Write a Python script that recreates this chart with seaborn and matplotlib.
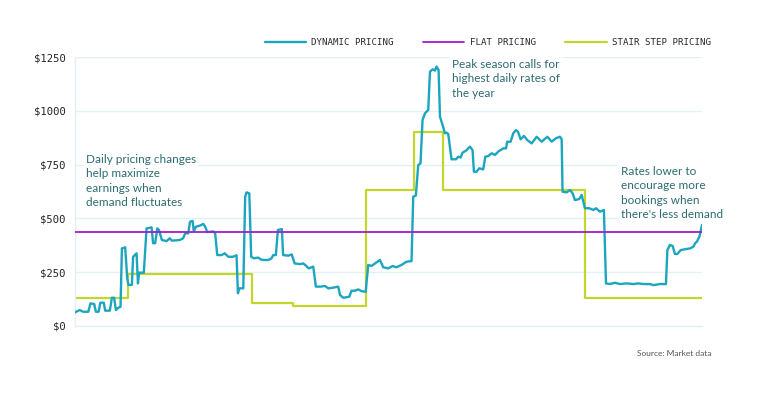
import numpy as np
import pandas as pd
import matplotlib
matplotlib.use("Agg")
import matplotlib.pyplot as plt
import seaborn as sns

# =============== DATA ===============
# day of year -> nightly rate ($)
dynamic_days = [
    0, 3, 5, 8, 9.3, 11.4, 12.4, 14, 15, 17, 17.8, 20.5, 21.7, 23, 24, 25.5, 26.7,
    27.5, 29.4, 30.6, 31.3, 33.3, 34, 36, 36.8, 37.5, 40.2, 41.8, 44.7, 45.6, 46.8,
    48, 49, 50.7, 53.4, 55.3, 56.5, 61, 63, 64.2, 66, 67, 68.5, 69.2, 70.4, 72.7,
    74.7, 75.8, 77, 79.3, 80.5, 81.6, 82.8, 85.3, 87.2, 89.2, 92, 94, 94.8, 95.6,
    97.9, 99, 99.8, 101.4, 102.5, 104, 106.6, 108, 109.5, 112.4, 114.3, 115.3,
    116.8, 118, 120.3, 121, 124, 126, 127.7, 130.8, 132.7, 134.2, 135.8, 138.5,
    140, 142.7, 145.3, 147.2, 150, 153, 154, 156, 159.4, 160.7, 162.7, 164.6,
    166.5, 168.9, 170.4, 172.3, 174.3, 177.2, 179.1, 182, 184.5, 186.8, 189.7,
    192.6, 195.5, 196.5, 198, 199.4, 200.7, 201.9, 203.3, 205.2, 206.2, 207.7,
    209.1, 210, 211.2, 212, 213.5, 214.9, 215.8, 216.8, 218.7, 221.3, 222.6, 224,
    225.1, 227.1, 229.4, 230.9, 231.7, 233.2, 234.8, 237.1, 238.3, 240, 242,
    243.9, 245.8, 248.7, 250.3, 251, 253, 254.5, 256.1, 257.2, 258.8, 260.7,
    262.6, 265.2, 268.1, 271, 274.3, 276.8, 279.3, 281.6, 282.6, 283.1, 285.5,
    287.4, 289, 290.3, 292.8, 294.2, 296.1, 298.6, 301, 302.5, 304.8, 307.1,
    308.3, 310.6, 313.5, 316.4, 320.3, 324.2, 327.1, 330, 333.8, 335.8, 339.6,
    343.1, 343.9, 345.4, 347, 348.3, 349.7, 351.6, 354.1, 357.1, 359, 360, 361,
    362.5, 364,
]
dynamic_rates = [
    61, 73, 65, 65, 104, 101, 65, 65, 107, 107, 70, 70, 130, 130, 73, 84, 88,
    360, 365, 220, 190, 190, 321, 337, 197, 247, 247, 453, 458, 384, 384,
    453, 446, 399, 394, 407, 396, 399, 407, 430, 430, 484, 488, 438, 461, 466,
    474, 461, 436, 438, 439, 430, 329, 329, 337, 321, 321, 328, 151, 174,
    174, 601, 621, 616, 321, 314, 317, 309, 306, 306, 314, 329,
    329, 446, 450, 329, 326, 332, 290, 287, 290, 280, 267, 275,
    182, 182, 185, 174, 177, 182, 143, 130, 135, 163, 163, 169,
    161, 158, 283, 278, 290, 306, 272, 267, 278, 272, 283,
    298, 301, 601, 606, 748, 756, 958, 989, 1005, 1183, 1194,
    1188, 1207, 1191, 974, 935, 896, 899, 893, 775, 775, 787, 783,
    806, 815, 834, 818, 717, 717, 733, 728, 787, 790, 803,
    795, 811, 826, 826, 857, 857, 896, 911, 904, 868, 884,
    865, 849, 880, 857, 880, 857, 873, 880, 868, 624, 621,
    632, 616, 585, 590, 609, 547, 547, 539, 547, 531, 539,
    197, 194, 200, 194, 197, 194, 197, 194, 194, 189, 194,
    194, 352, 376, 371, 334, 334, 352, 356, 360, 368, 384, 391,
    415, 469,
]

flat_days = [0, 364]
flat_rates = [435, 435]

stair_days = [0, 31, 103, 127, 169, 197, 214, 296, 364]
stair_rates = [130, 240, 104, 93, 630, 900, 630, 130, 130]

y_ticks = [0, 250, 500, 750, 1000, 1250]
y_labels = ["$0", "$250", "$500", "$750", "$1000", "$1250"]

notes = [
    (6.6, 674, "Daily pricing changes\nhelp maximize\nearnings when\ndemand fluctuates"),
    (219.1, 1150, "Peak season calls for\nhighest daily rates of\nthe year"),
    (317, 618, "Rates lower to\nencourage more\nbookings when\nthere's less demand"),
]

# =============== STYLE ===============
sns.set_style("white")
plt.rcParams["font.family"] = ["Lato", "DejaVu Sans"]

DYN = "#1ca5bf"
FLAT = "#a31cc6"
STAIR = "#c2d62b"
GRID = "#e3f1f6"
NOTE = "#2d6c72"

fig = plt.figure(figsize=(7.68, 3.96), dpi=100)
ax = fig.add_axes([74.5 / 768, 1 - 325.7 / 396, (702 - 74.5) / 768, (325.7 - 57.3) / 396])

dyn_df = pd.DataFrame({"day": dynamic_days, "rate": dynamic_rates})
flat_df = pd.DataFrame({"day": flat_days, "rate": flat_rates})
stair_df = pd.DataFrame({"day": stair_days, "rate": stair_rates})

sns.lineplot(data=dyn_df, x="day", y="rate", ax=ax, color=DYN, lw=1.7,
             label="DYNAMIC PRICING", zorder=3)
sns.lineplot(data=flat_df, x="day", y="rate", ax=ax, color=FLAT, lw=1.3,
             label="FLAT PRICING", zorder=4)
sns.lineplot(data=stair_df, x="day", y="rate", ax=ax, color=STAIR, lw=1.6,
             drawstyle="steps-post", label="STAIR STEP PRICING", zorder=2)

ax.set_xlim(0, 364)
ax.set_ylim(0, 1250)
ax.set_xticks([])
ax.set_yticks(y_ticks)
ax.set_yticklabels(y_labels, family="DejaVu Sans Mono", fontsize=7.6,
                   color="#222222", weight="medium")
ax.tick_params(axis="y", length=0, pad=6.5)
ax.set_xlabel("")
ax.set_ylabel("")
ax.set_axisbelow(True)
ax.yaxis.grid(True, color=GRID, lw=1)
for side in ["top", "right"]:
    ax.spines[side].set_visible(False)
for side in ["left", "bottom"]:
    ax.spines[side].set_color(GRID)
    ax.spines[side].set_linewidth(1)

for x, y, txt in notes:
    ax.text(x, y, txt, fontsize=8.5, color=NOTE, va="center", ha="left",
            linespacing=1.4, zorder=5, clip_on=False,
            bbox=dict(facecolor="white", edgecolor="none", pad=1.5))

# legend along the top
handles, labels = ax.get_legend_handles_labels()
ax.get_legend().remove()
fig.legend(handles, labels, loc="center right", ncol=3, frameon=False,
           bbox_to_anchor=(711 / 768, 1 - 42.5 / 396), borderaxespad=0, borderpad=0,
           handlelength=4.5, handletextpad=0.6, columnspacing=3.2,
           prop={"family": "DejaVu Sans Mono", "size": 6.6}, labelcolor="#2a2a2a")

fig.text(711 / 768, 1 - 353 / 396, "Source: Market data", ha="right", va="center",
         fontsize=6, color="#555555")

fig.savefig("out.png", dpi=100, facecolor="white")
